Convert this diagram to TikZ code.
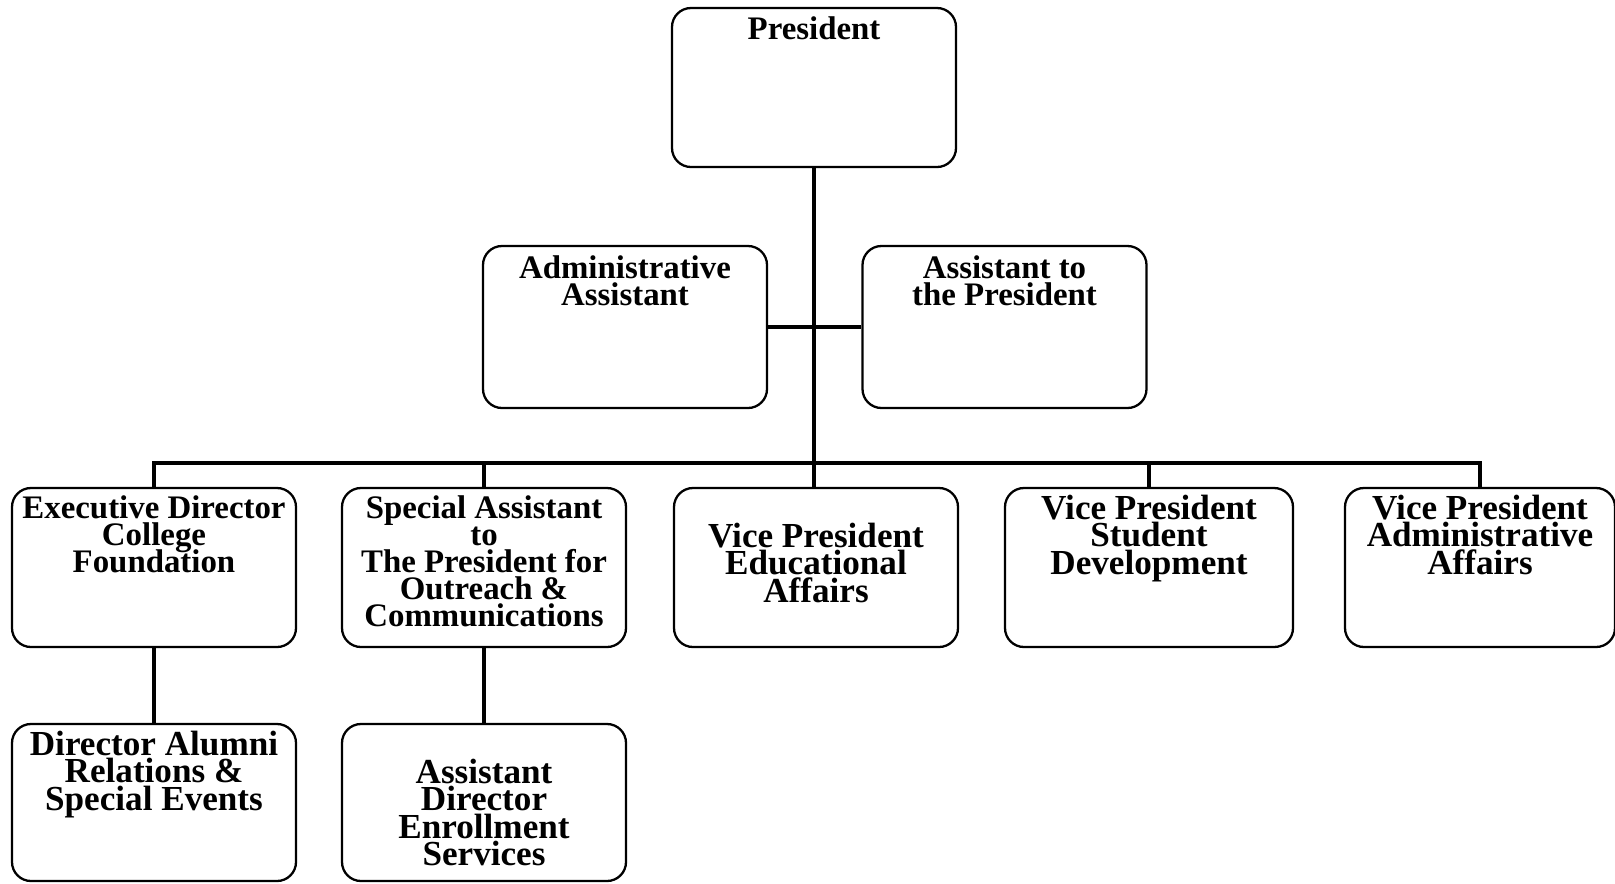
\documentclass[tikz,border=0pt]{standalone}
\usepackage{fontspec}
\setmainfont{Liberation Serif}
\usetikzlibrary{positioning, calc}

\newcommand\tightlines{\lineskiplimit=-20pt\relax}

\tikzset{
  post/.style={draw, rounded corners=0.38cm, line width=1.3pt, minimum width=5.68cm, minimum height=3.18cm, inner sep=0pt},
  ttl/.style={anchor=north, align=center, inner sep=0pt, font=\bfseries\fontsize{18.7}{15.5}\selectfont\tightlines},
  bigttl/.style={ttl, font=\bfseries\fontsize{20}{15.5}\selectfont\tightlines},
  link/.style={line width=2.4pt}
}

\begin{document}
\begin{tikzpicture}
  \useasboundingbox (0,0) rectangle (32.3,-17.66);

  % President
  \node[post] (pres) at (16.28, -1.75) {};
  \node[ttl, below=0.18cm of pres.north] (presT) {President};

  % Staff
  \node[post, minimum height=3.24cm] (admin) at (12.50, -6.54) {};
  \node[ttl, below=0.2cm of admin.north] (adminT) {Administrative\\Assistant};
  \node[post, minimum height=3.24cm] (asst) at (20.09, -6.54) {};
  \node[ttl, below=0.2cm of asst.north] (asstT) {Assistant to\\the President};

  % Direct reports
  \node[post] (exec) at (3.08, -11.35) {};
  \node[ttl, below=0.16cm of exec.north] (execT) {Executive Director\\College\\Foundation};
  \node[post] (spec) at (9.68, -11.35) {};
  \node[ttl, below=0.16cm of spec.north] (specT) {Special Assistant\\to\\The President for\\Outreach \&\\Communications};
  \node[post] (vped) at (16.32, -11.35) {};
  \node[bigttl, below=0.72cm of vped.north] (vpedT) {Vice President\\Educational\\Affairs};
  \node[post, minimum width=5.76cm] (vpsd) at (22.98, -11.35) {};
  \node[bigttl, below=0.16cm of vpsd.north] (vpsdT) {Vice President\\Student\\Development};
  \node[post, minimum width=5.4cm] (vpaa) at (29.6, -11.35) {};
  \node[bigttl, below=0.16cm of vpaa.north] (vpaaT) {Vice President\\Administrative\\Affairs};

  % Second level
  \node[post, minimum height=3.14cm] (alumni) at (3.08, -16.05) {};
  \node[bigttl, below=0.16cm of alumni.north] (alumniT) {Director Alumni\\Relations \&\\Special Events};
  \node[post, minimum height=3.14cm] (enroll) at (9.68, -16.05) {};
  \node[bigttl, below=0.72cm of enroll.north] (enrollT) {Assistant\\Director\\Enrollment\\Services};

  % Connectors
  \coordinate (bus) at (16.30, -9.26);
  \draw[link] (pres.south) -- (pres.south |- vped.north);
  \draw[link] (admin) -- (asst);
  \draw[link] (exec.north) |- (bus) -| (vpaa.north);
  \draw[link] (spec.north) -- (spec.north |- bus);
  \draw[link] (vpsd.north) -- (vpsd.north |- bus);
  \draw[link] (exec) -- (alumni);
  \draw[link] (spec) -- (enroll);
\end{tikzpicture}
\end{document}
